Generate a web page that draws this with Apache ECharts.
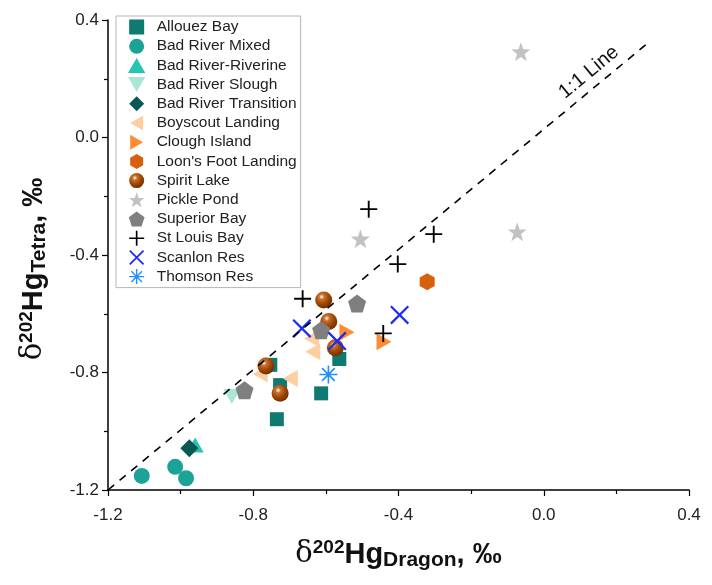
<!DOCTYPE html>
<html>
<head>
  <meta charset="UTF-8">
  <title>d202Hg Dragon vs Tetra</title>
  <script src="https://cdn.jsdelivr.net/npm/echarts@6/dist/echarts.min.js"></script>
  <style>
    html, body { margin: 0; padding: 0; background: #fff; }
    #main { width: 712px; height: 585px; }
  </style>
</head>
<body>
<div id="main"></div>
<script>
  // data: [Dragon, Tetra] in permil
  var allouezBay = [[-0.753, -0.774], [-0.726, -0.843], [-0.735, -0.959], [-0.613, -0.871], [-0.563, -0.754]];
  var badRiverMixed = [[-1.107, -1.152], [-1.015, -1.121], [-0.985, -1.160]];
  var badRiverRiverine = [[-0.960, -1.047]];
  var badRiverSlough = [[-0.859, -0.882]];
  var badRiverTransition = [[-0.976, -1.058]];
  var boyscoutLanding = [[-0.781, -0.805], [-0.698, -0.820], [-0.640, -0.684], [-0.636, -0.729]];
  var cloughIsland = [[-0.542, -0.663], [-0.440, -0.695]];
  var loonsFoot = [[-0.321, -0.491]];
  var spiritLake = [[-0.765, -0.778], [-0.726, -0.871], [-0.606, -0.553], [-0.592, -0.626], [-0.574, -0.716]];
  var picklePond = [[-0.505, -0.345], [-0.073, -0.321], [-0.063, 0.292]];
  var superiorBay = [[-0.824, -0.860], [-0.613, -0.656], [-0.514, -0.565]];
  var stLouisBay = [[-0.664, -0.549], [-0.482, -0.244], [-0.303, -0.329], [-0.402, -0.431], [-0.442, -0.667]];
  var scanlonRes = [[-0.666, -0.650], [-0.569, -0.693], [-0.397, -0.604]];
  var thomsonRes = [[-0.593, -0.807]];
  var oneToOne = [[-1.2, -1.2], [0.29, 0.325]];

  // thin bar shapes for +, x and *
  function bar(deg, L, w) {
    var a = deg * Math.PI / 180;
    var dx = Math.cos(a), dy = Math.sin(a), nx = -dy, ny = dx;
    var p = [
      [L * dx - w * nx, L * dy - w * ny],
      [L * dx + w * nx, L * dy + w * ny],
      [-L * dx + w * nx, -L * dy + w * ny],
      [-L * dx - w * nx, -L * dy - w * ny]
    ];
    return 'M' + p.map(function (q) { return q[0].toFixed(3) + ',' + q[1].toFixed(3); }).join('L') + 'Z';
  }
  var plusPath = 'path://' + bar(0, 10, 1.1) + bar(90, 10, 1.1);
  var crossPath = 'path://' + bar(45, 10, 0.9) + bar(135, 10, 0.9);
  var starAstPath = 'path://' + bar(0, 10, 0.9) + bar(90, 10, 0.9) + bar(45, 10, 0.9) + bar(135, 10, 0.9);
  var squarePath = 'path://M-10,-10L10,-10L10,10L-10,10Z';
  var diamondPath = 'path://M0,-10L10,0L0,10L-10,0Z';
  var hexPath = 'path://M0,-10L8.66,-5L8.66,5L0,10L-8.66,5L-8.66,-5Z';
  var pentPath = 'path://M0,-10L9.51,-3.09L5.88,8.09L-5.88,8.09L-9.51,-3.09Z';
  var starPath = 'path://M0,-10L2.35,-3.24L9.51,-3.09L3.80,1.24L5.88,8.09L0,4L-5.88,8.09L-3.80,1.24L-9.51,-3.09L-2.35,-3.24Z';
  var upTri = 'path://M-10,8.66L10,8.66L0,-8.66Z';
  var downTri = 'path://M-10,-8.66L10,-8.66L0,8.66Z';
  var leftTri = 'path://M8.66,-10L8.66,10L-8.66,0Z';
  var rightTri = 'path://M-8.66,-10L-8.66,10L8.66,0Z';

  var sphere = {
    type: 'radial', x: 0.38, y: 0.32, r: 0.7,
    colorStops: [
      { offset: 0, color: '#ffffff' },
      { offset: 0.22, color: '#c8712f' },
      { offset: 0.6, color: '#a04600' },
      { offset: 1, color: '#6e2f00' }
    ]
  };

  function pts(name, data, symbol, size, color) {
    return {
      name: name,
      type: 'scatter',
      data: data,
      symbol: symbol,
      symbolSize: size,
      itemStyle: { color: color, opacity: 1 },
      z: 3
    };
  }

  var series = [
    pts('Allouez Bay', allouezBay, squarePath, 14, '#0f7a70'),
    pts('Bad River Mixed', badRiverMixed, 'circle', 16, '#1aa396'),
    pts('Bad River-Riverine', badRiverRiverine, upTri, [17, 15], '#27c4b1'),
    pts('Bad River Slough', badRiverSlough, downTri, [17, 15], '#aae5d5'),
    pts('Bad River Transition', badRiverTransition, diamondPath, 18, '#0a5853'),
    pts('Boyscout Landing', boyscoutLanding, leftTri, [15, 17], '#fdcfa0'),
    pts('Clough Island', cloughIsland, rightTri, [15, 17], '#fd8c32'),
    pts("Loon's Foot Landing", loonsFoot, hexPath, [15, 17], '#d7600d'),
    pts('Spirit Lake', spiritLake, 'circle', 17, sphere),
    pts('Pickle Pond', picklePond, starPath, 19, '#c2c2c2'),
    pts('Superior Bay', superiorBay, pentPath, 18, '#7f7f7f'),
    pts('St Louis Bay', stLouisBay, plusPath, 17, '#000000'),
    pts('Scanlon Res', scanlonRes, crossPath, 19, '#1c2cf0'),
    pts('Thomson Res', thomsonRes, starAstPath, 18, '#1e90ff'),
    {
      name: '1:1',
      type: 'line',
      data: [],
      silent: true,
      z: 2,
      markLine: {
        silent: true,
        symbol: 'none',
        animation: false,
        lineStyle: { color: '#000', width: 1.6, type: [8, 7] },
        label: {
          show: true,
          formatter: '1:1 Line',
          position: 'insideEndTop',
          distance: [30, 5],
          fontSize: 20,
          color: '#111',
          fontFamily: 'Liberation Sans'
        },
        data: [[{ coord: oneToOne[0] }, { coord: oneToOne[1] }]]
      }
    }
  ];

  var legendNames = series.slice(0, 14).map(function (s) { return s.name; });

  function tickFmt(v) {
    if (Math.abs(v) < 1e-9) v = 0;
    return v.toFixed(1);
  }

  var nameRich = {
    b: { fontSize: 29, fontWeight: 'bold', fontFamily: 'Liberation Sans', color: '#111' },
    d: { fontSize: 29, fontFamily: 'DejaVu Serif', color: '#111' },
    sup: { fontSize: 19, fontWeight: 'bold', fontFamily: 'Liberation Sans', color: '#111', verticalAlign: 'top', padding: [0, 0, 12, 0] },
    sub: { fontSize: 21, fontWeight: 'bold', fontFamily: 'Liberation Sans', color: '#111', verticalAlign: 'bottom', padding: [12, 0, 0, 0] }
  };

  var chart = echarts.init(document.getElementById('main'));
  chart.setOption({
    animation: false,
    backgroundColor: '#fff',
    grid: { left: 108, right: 23, top: 20, bottom: 95 },
    legend: {
      data: legendNames,
      orient: 'vertical',
      left: 116,
      top: 16,
      padding: [3, 4, 3, 12],
      itemWidth: 30,
      itemHeight: 15,
      itemGap: 3.2,
      borderColor: '#b5b5b5',
      borderWidth: 1,
      textStyle: { fontSize: 15.5, color: '#222', fontFamily: 'Liberation Sans', lineHeight: 15 }
    },
    xAxis: {
      type: 'value',
      min: -1.2,
      max: 0.4,
      interval: 0.4,
      name: '{d|δ}{sup|202}{b|Hg}{sub|Dragon}{b|, ‰}',
      nameLocation: 'middle',
      nameGap: 48,
      nameTextStyle: { rich: nameRich },
      axisLine: { onZero: false, lineStyle: { color: '#000', width: 1.5 } },
      axisTick: { length: 6, lineStyle: { color: '#000', width: 1.2 } },
      minorTick: { show: true, splitNumber: 2, length: 4, lineStyle: { color: '#000', width: 1.2 } },
      splitLine: { show: false },
      axisLabel: { fontSize: 17, color: '#222', margin: 17, fontFamily: 'Liberation Sans', formatter: tickFmt }
    },
    yAxis: {
      type: 'value',
      min: -1.2,
      max: 0.4,
      interval: 0.4,
      name: '{d|δ}{sup|202}{b|Hg}{sub|Tetra}{b|, ‰}',
      nameLocation: 'middle',
      nameGap: 58,
      nameTextStyle: { rich: nameRich, padding: [0, 28, 0, 0] },
      axisLine: { onZero: false, lineStyle: { color: '#000', width: 1.5 } },
      axisTick: { length: 6, lineStyle: { color: '#000', width: 1.2 } },
      minorTick: { show: true, splitNumber: 2, length: 4, lineStyle: { color: '#000', width: 1.2 } },
      splitLine: { show: false },
      axisLabel: { fontSize: 17, color: '#222', margin: 9, fontFamily: 'Liberation Sans', formatter: tickFmt }
    },
    series: series
  });
</script>
</body>
</html>
